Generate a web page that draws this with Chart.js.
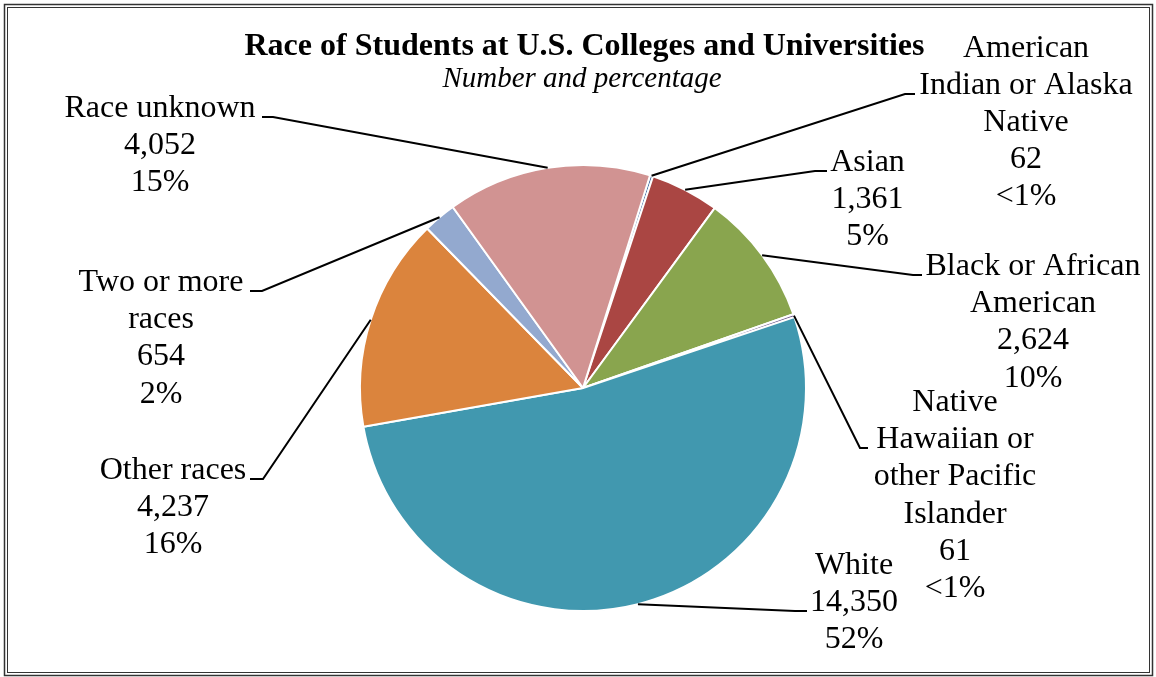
<!DOCTYPE html>
<html>
<head>
<meta charset="utf-8">
<script src="https://cdn.jsdelivr.net/npm/chart.js@4"></script>
<style>
  html, body { margin: 0; padding: 0; background: #fff; }
  #wrap { width: 1156px; height: 677px; position: relative; }
</style>
</head>
<body>
<div id="wrap"><canvas id="chart"></canvas></div>
<script>
// data
const categories = [
  "American Indian or Alaska Native",
  "Asian",
  "Black or African American",
  "Native Hawaiian or other Pacific Islander",
  "White",
  "Other races",
  "Two or more races",
  "Race unknown",
];
const nameLines = [
  ["American", "Indian or Alaska", "Native"],
  ["Asian"],
  ["Black or African", "American"],
  ["Native", "Hawaiian or", "other Pacific", "Islander"],
  ["White"],
  ["Other races"],
  ["Two or more", "races"],
  ["Race unknown"],
];
const students = [62, 1361, 2624, 61, 14350, 4237, 654, 4052];
const percentLabels = ["<1%", "5%", "10%", "<1%", "52%", "16%", "2%", "15%"];
const colors = ["#4572A7", "#AA4643", "#89A54E", "#71588F", "#4198AF", "#DB843D", "#93A9CF", "#D19392"];

const titleText = "Race of Students at U.S. Colleges and Universities";
const subtitleText = "Number and percentage";

// where each label block sits, and the bend of its leader line
const labelLayout = [
  { cx: 1026, base: 56.5, attach: [915, 94], elbow: [905, 94] },
  { cx: 867.5, base: 170.5, attach: [827, 171], elbow: [815, 171] },
  { cx: 1033, base: 275, attach: [922, 275], elbow: [913, 275] },
  { cx: 955, base: 411, attach: [868, 448], elbow: [860, 448] },
  { cx: 854, base: 574, attach: [807, 611], elbow: [795, 611] },
  { cx: 173, base: 479, attach: [250, 479], elbow: [263, 479] },
  { cx: 161, base: 291, attach: [250, 291], elbow: [262, 291] },
  { cx: 160, base: 117, attach: [262, 117], elbow: [273, 117] },
];
const LINE_H = 37.2;
const SERIF = '"Liberation Serif", "Times New Roman", serif';

const frame = {
  id: "frame",
  beforeDraw(chart) {
    const ctx = chart.ctx;
    ctx.save();
    ctx.strokeStyle = "#333";
    ctx.lineWidth = 1.5;
    ctx.strokeRect(4.5, 4.5, 1148, 671);
    ctx.lineWidth = 1;
    ctx.strokeRect(7.5, 7.5, 1142, 665);
    ctx.restore();
  },
};

const labels = {
  id: "pieLabels",
  afterDraw(chart) {
    const ctx = chart.ctx;
    const arcs = chart.getDatasetMeta(0).data;
    ctx.save();

    // title and subtitle
    ctx.fillStyle = "#000";
    ctx.textAlign = "center";
    ctx.textBaseline = "alphabetic";
    ctx.font = "bold 32px " + SERIF;
    ctx.fillText(titleText, 584.5, 55);
    ctx.font = "italic 29px " + SERIF;
    ctx.fillText(subtitleText, 582, 87);

    // leader lines, from the middle of each slice's rim
    ctx.strokeStyle = "#000";
    ctx.lineWidth = 2;
    arcs.forEach((arc, i) => {
      const p = arc.getProps(["x", "y", "startAngle", "endAngle", "outerRadius"], true);
      const mid = (p.startAngle + p.endAngle) / 2;
      const sx = p.x + Math.cos(mid) * p.outerRadius;
      const sy = p.y + Math.sin(mid) * p.outerRadius;
      const L = labelLayout[i];
      ctx.beginPath();
      ctx.moveTo(L.attach[0], L.attach[1]);
      ctx.lineTo(L.elbow[0], L.elbow[1]);
      ctx.lineTo(sx, sy);
      ctx.stroke();
    });

    // label text
    ctx.font = "32px " + SERIF;
    arcs.forEach((arc, i) => {
      const L = labelLayout[i];
      const lines = [...nameLines[i], students[i].toLocaleString("en-US"), percentLabels[i]];
      lines.forEach((t, k) => ctx.fillText(t, L.cx, L.base + k * LINE_H));
    });
    ctx.restore();
  },
};

new Chart(document.getElementById("chart"), {
  type: "pie",
  data: {
    labels: categories,
    datasets: [{
      data: students,
      backgroundColor: colors,
      borderColor: "#fff",
      borderWidth: 2,
      hoverOffset: 0,
      radius: 223,
    }],
  },
  options: {
    responsive: true,
    maintainAspectRatio: false,
    animation: false,
    rotation: 17.5,
    layout: { padding: { left: 333, right: 323, top: 138, bottom: 39 } },
    plugins: {
      legend: { display: false },
      title: { display: false },
      tooltip: { enabled: false },
    },
    events: [],
  },
  plugins: [frame, labels],
});
</script>
</body>
</html>
